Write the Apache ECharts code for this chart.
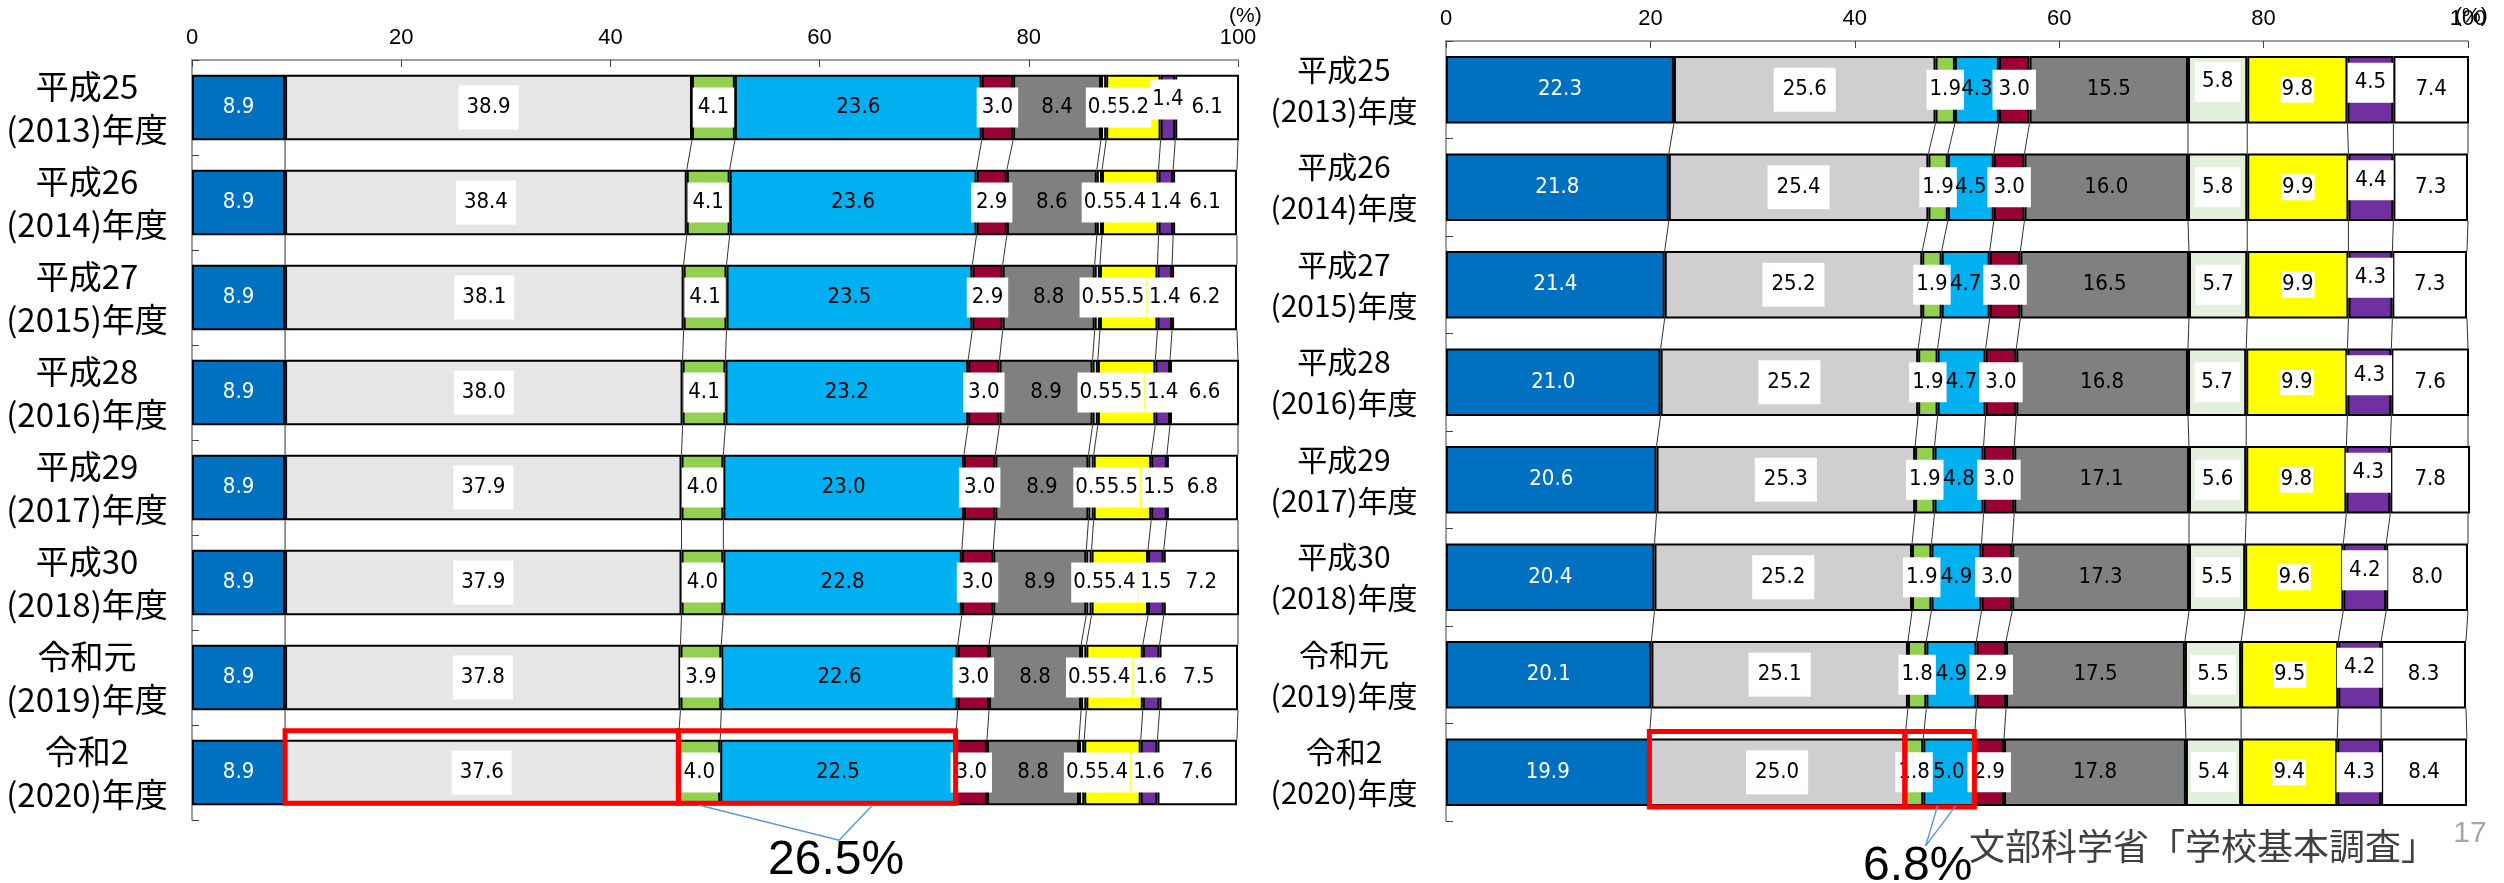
<!DOCTYPE html>
<html><head><meta charset="utf-8">
<script src="https://cdn.jsdelivr.net/npm/echarts@6/dist/echarts.min.js"></script>
<style>html,body{margin:0;padding:0;background:#fff;}#c{width:2504px;height:883px;}</style>
</head><body><div id="c"></div>
<script>
// ---------- data ----------
const eras  = ['平成25','平成26','平成27','平成28','平成29','平成30','令和元','令和2'];
const years = ['(2013)年度','(2014)年度','(2015)年度','(2016)年度','(2017)年度','(2018)年度','(2019)年度','(2020)年度'];
const xTicks = [0, 20, 40, 60, 80, 100];

// left chart (10 segments)
const L1  = [8.9, 8.9, 8.9, 8.9, 8.9, 8.9, 8.9, 8.9];
const L2  = [38.9, 38.4, 38.1, 38.0, 37.9, 37.9, 37.8, 37.6];
const L3  = [4.1, 4.1, 4.1, 4.1, 4.0, 4.0, 3.9, 4.0];
const L4  = [23.6, 23.6, 23.5, 23.2, 23.0, 22.8, 22.6, 22.5];
const L5  = [3.0, 2.9, 2.9, 3.0, 3.0, 3.0, 3.0, 3.0];
const L6  = [8.4, 8.6, 8.8, 8.9, 8.9, 8.9, 8.8, 8.8];
const L7  = [0.5, 0.5, 0.5, 0.5, 0.5, 0.5, 0.5, 0.5];
const L8  = [5.2, 5.4, 5.5, 5.5, 5.5, 5.4, 5.4, 5.4];
const L9  = [1.4, 1.4, 1.4, 1.4, 1.5, 1.5, 1.6, 1.6];
const L10 = [6.1, 6.1, 6.2, 6.6, 6.8, 7.2, 7.5, 7.6];

// right chart (10 segments)
const R1  = [22.3, 21.8, 21.4, 21.0, 20.6, 20.4, 20.1, 19.9];
const R2  = [25.6, 25.4, 25.2, 25.2, 25.3, 25.2, 25.1, 25.0];
const R3  = [1.9, 1.9, 1.9, 1.9, 1.9, 1.9, 1.8, 1.8];
const R4  = [4.3, 4.5, 4.7, 4.7, 4.8, 4.9, 4.9, 5.0];
const R5  = [3.0, 3.0, 3.0, 3.0, 3.0, 3.0, 2.9, 2.9];
const R6  = [15.5, 16.0, 16.5, 16.8, 17.1, 17.3, 17.5, 17.8];
const R7  = [5.8, 5.8, 5.7, 5.7, 5.6, 5.5, 5.5, 5.4];
const R8  = [9.8, 9.9, 9.9, 9.9, 9.8, 9.6, 9.5, 9.4];
const R9  = [4.5, 4.4, 4.3, 4.3, 4.3, 4.2, 4.2, 4.3];
const R10 = [7.4, 7.3, 7.3, 7.6, 7.8, 8.0, 8.3, 8.4];

const sourceText = '文部科学省「学校基本調査」';
const pageNo = '17';

// ---------- styling ----------
function hasFont(f){
  const c=document.createElement('canvas').getContext('2d');
  c.font='40px monospace'; const a=c.measureText('0123456789.').width;
  c.font="40px '"+f+"', monospace"; return c.measureText('0123456789.').width!==a;
}
let NUM_FONT="'Liberation Sans'", NUM_SIZE=23;
if (hasFont('Liberation Sans Narrow')) { NUM_FONT="'Liberation Sans Narrow'"; NUM_SIZE=26; }
else if (hasFont('DejaVu Sans Condensed')) { NUM_FONT="'DejaVu Sans Condensed'"; NUM_SIZE=22; }
const CJK = "'Noto Sans CJK JP', 'Noto Sans', sans-serif";
const GAP = 0.31;

const leftColors  = ['#0070C0','#E6E6E6','#92D050','#00B0F0','#990033','#808080','#E2EFDA','#FFFF00','#7030A0','#FFFFFF'];
const rightColors = ['#0070C0','#D0CECE','#92D050','#00B0F0','#990033','#808080','#E2EFDA','#FFFF00','#7030A0','#FFFFFF'];
const leftBoxes  = [null,[11,8],[9,5],null,[9,5],null,[9,2],[9,2],[9,2],null];
const rightBoxes = [null,[11,9],[9,3],null,[9,6],null,[9,7],[2,1],[9,7],null];
const leftOffsets  = {8:{0:-8}};
const rightOffsets = {6:{0:-8}, 8:{0:-7,1:-7,2:-7,3:-7,4:-7,5:-7,6:-7}};

const cats = eras.map((e,i)=>e+'\n'+years[i]);

function overlay(S, hl, ann){
  return function(params, api){
    if (params.dataIndex!==0) return;
    const n=S[0].length, k=S.length;
    const cum=[];
    for(let r=0;r<n;r++){let s=0;const row=[];for(let j=0;j<k;j++){s+=S[j][r];row.push(Math.min(s,100));}cum.push(row);}
    const c0=api.coord([0,0]), c1=api.coord([0,1]);
    const band=Math.abs(c1[1]-c0[1]); const half=band*(1-GAP)/2;
    const px=(x,r)=>api.coord([x,r]);
    const ch=[];
    for(let r=0;r<n-1;r++) for(let j=0;j<k;j++){
      const a=px(cum[r][j],r), b=px(cum[r+1][j],r+1);
      ch.push({type:'line',shape:{x1:a[0],y1:a[1]+half,x2:b[0],y2:b[1]-half},style:{stroke:'#333',lineWidth:1}});
    }
    hl.forEach(h=>{
      const r=h.row; const x0=h.from>0?cum[r][h.from-1]:0, x1=cum[r][h.to];
      const a=px(x0,r), b=px(x1,r);
      ch.push({type:'rect',shape:{x:a[0],y:a[1]-half-h.up,width:b[0]-a[0],height:2*half+h.up+h.down},style:{fill:'transparent',stroke:'#FF0000',lineWidth:5}});
    });
    const r=ann.row; const x0=cum[r][ann.from-1], x1=cum[r][ann.to];
    const a=px(x0,r), b=px(x1,r); const w=b[0]-a[0]; const yb=a[1]+half;
    const mx=a[0]+w*ann.meet, my=yb+ann.dy;
    ann.starts.forEach(f=>ch.push({type:'line',shape:{x1:a[0]+w*f,y1:yb,x2:mx,y2:my},style:{stroke:'#5B9BD5',lineWidth:1.5}}));
    let tot=0; for(let j=ann.from;j<=ann.to;j++) tot+=S[j][r];
    ch.push({type:'text',x:mx+ann.tdx,y:my+ann.tdy,style:{text:tot.toFixed(1)+'%',fontSize:48,fontFamily:"'Liberation Sans', sans-serif",fill:'#000',align:'center',verticalAlign:'middle'}});
    return {type:'group',children:ch};
  };
}

function build(g, S, colors, boxes, offsets, stack){
  return S.map((arr,j)=>({
    type:'bar', name:stack+(j+1), stack:stack, xAxisIndex:g, yAxisIndex:g,
    barCategoryGap:(GAP*100)+'%', clip:false,
    itemStyle:{color:colors[j], borderColor:'#000', borderWidth:2},
    label:{show:true, position:'inside', formatter:p=>Number(p.value).toFixed(1),
      color: j===0?'#fff':'#000', fontSize:NUM_SIZE, fontFamily:NUM_FONT,
      backgroundColor: boxes[j]?'#fff':'transparent', padding: boxes[j]||0},
    data: arr.map((v,r)=>{
      const o=offsets[j]&&offsets[j][r];
      return o!==undefined?{value:v,label:{offset:[0,o]}}:v;
    })
  }));
}

const LS=[L1,L2,L3,L4,L5,L6,L7,L8,L9,L10];
const RS=[R1,R2,R3,R4,R5,R6,R7,R8,R9,R10];

function xAxis(g){
  return {type:'value', gridIndex:g, position:'top', min:xTicks[0], max:xTicks[xTicks.length-1], interval:xTicks[1]-xTicks[0],
    axisLine:{show:true,onZero:false,lineStyle:{color:'#808080',width:1.5}},
    axisTick:{show:true,inside:true,length:7,lineStyle:{color:'#404040',width:1}},
    splitLine:{show:false},
    axisLabel:{margin:11,fontSize:22,color:'#000',fontFamily:"'Liberation Sans', sans-serif"}};
}
function yAxis(g, fs, lh, margin){
  return {type:'category', gridIndex:g, data:cats, inverse:true,
    axisLine:{show:true,onZero:false,lineStyle:{color:'#808080',width:1.5}},
    axisTick:{show:true,inside:true,length:7,lineStyle:{color:'#404040',width:1}},
    axisLabel:{margin:margin,align:'center',fontSize:fs,lineHeight:lh,color:'#000',fontFamily:CJK}};
}

const chart=echarts.init(document.getElementById('c'),null,{renderer:'canvas'});
chart.setOption({
  animation:false, backgroundColor:'#fff',
  grid:[{left:192,width:1046,top:60,height:760},{left:1446,width:1022,top:41,height:780}],
  xAxis:[xAxis(0),xAxis(1)], yAxis:[yAxis(0,33,43,105),yAxis(1,30,41,102)],
  series:[
    ...build(0,LS,leftColors,leftBoxes,leftOffsets,'L'),
    ...build(1,RS,rightColors,rightBoxes,rightOffsets,'R'),
    {type:'custom',xAxisIndex:0,yAxisIndex:0,silent:true,z:10,clip:false,data:[[0,0]],encode:{x:0,y:1},
      renderItem:overlay(LS,[{row:7,from:1,to:1,up:9,down:-2},{row:7,from:2,to:3,up:9,down:-2}],
        {row:7,from:2,to:3,starts:[0.076,0.70],meet:0.58,dy:35,tdx:-3,tdy:20})},
    {type:'custom',xAxisIndex:1,yAxisIndex:1,silent:true,z:10,clip:false,data:[[0,0]],encode:{x:0,y:1},
      renderItem:overlay(RS,[{row:7,from:1,to:1,up:7,down:1},{row:7,from:2,to:3,up:7,down:1}],
        {row:7,from:2,to:3,starts:[0.47,0.73],meet:0.30,dy:40,tdx:-8,tdy:21})}
  ],
  graphic:[
    {type:'text',left:1229,top:6,style:{text:'(%)',fontSize:21,fontFamily:"'Liberation Sans', sans-serif",fill:'#000'}},
    {type:'text',left:2455,top:6,style:{text:'(%)',fontSize:21,fontFamily:"'Liberation Sans', sans-serif",fill:'#000'}},
    {type:'text',x:2203,y:846,style:{text:sourceText,fontSize:36,fontFamily:CJK,fill:'#404040',align:'center',verticalAlign:'middle'}},
    {type:'text',x:2470,y:834,style:{text:pageNo,fontSize:30,fontFamily:"'Liberation Sans', sans-serif",fill:'#A6A6A6',align:'center',verticalAlign:'middle'}}
  ]
});
</script></body></html>
